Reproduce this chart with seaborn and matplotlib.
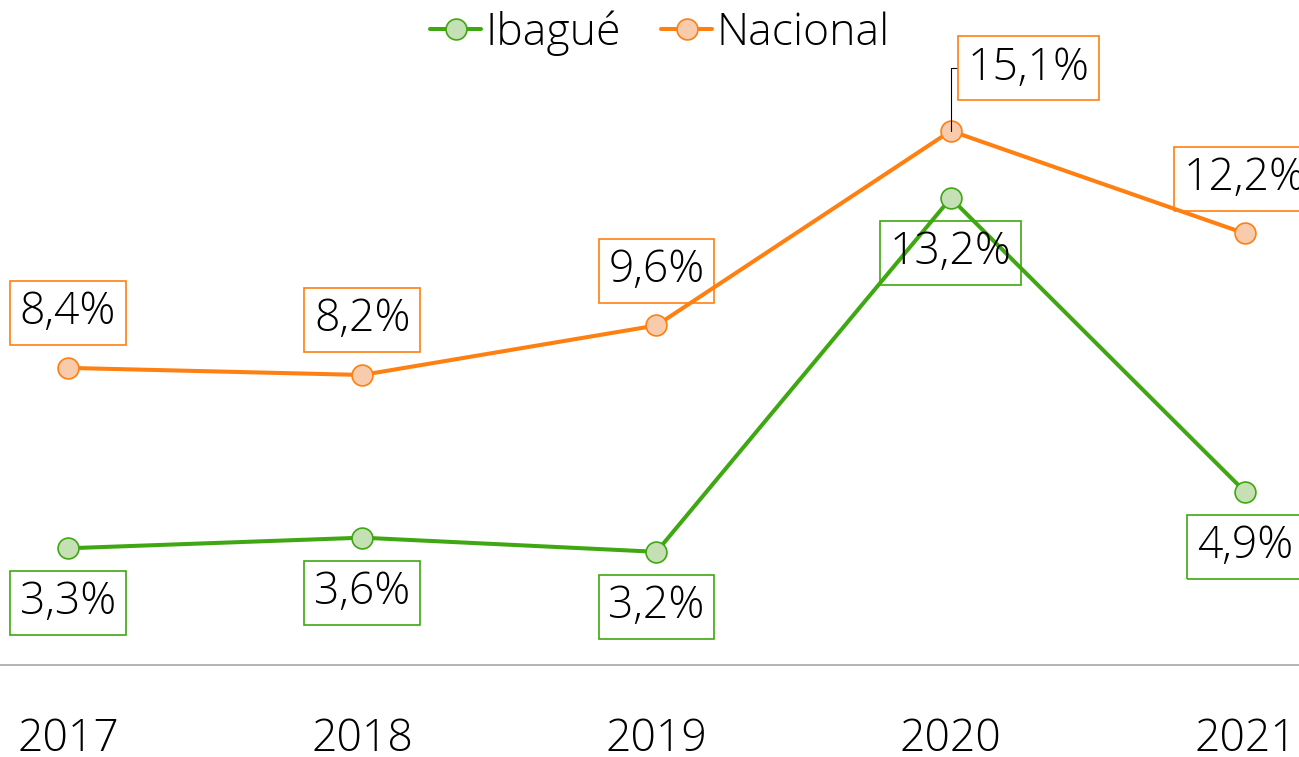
import numpy as np
import pandas as pd
import seaborn as sns
import matplotlib as mpl
import matplotlib.pyplot as plt

sns.set_theme(style="white")
mpl.rcParams["font.family"] = ["Open Sans", "DejaVu Sans"]
mpl.rcParams["font.weight"] = "light"
mpl.rcParams["text.color"] = "black"
mpl.rcParams["xtick.color"] = "black"

years = ["2017", "2018", "2019", "2020", "2021"]
ibague = [3.3, 3.6, 3.2, 13.2, 4.9]
nacional = [8.4, 8.2, 9.6, 15.1, 12.2]

green = "#3FA711"
green_fill = "#C5E0B4"
orange = "#FF7F10"
orange_fill = "#F8CBAD"
fs = 32

fig = plt.figure(figsize=(12.99, 7.57), dpi=100)
ax = fig.add_axes([0, 92 / 757, 1, 665 / 757])

pos = np.arange(len(years))
df = pd.DataFrame({"pos": pos, "Ibagué": ibague, "Nacional": nacional})

for col, lc, fc in [("Ibagué", green, green_fill), ("Nacional", orange, orange_fill)]:
    sns.lineplot(
        ax=ax, data=df, x="pos", y=col, color=lc, linewidth=2.9,
        marker="o", markersize=15, markerfacecolor=fc, markeredgecolor=lc,
        markeredgewidth=1.2, label=col, clip_on=False,
    )

def fmt(v):
    return f"{v:.1f}%".replace(".", ",")

box_pad = "square,pad=0.22"

# data labels
for i, v in enumerate(ibague):
    ax.annotate(fmt(v), xy=(i, v), xytext=(0, -39.5), textcoords="offset points",
                ha="center", va="center", fontsize=fs, annotation_clip=False,
                bbox=dict(boxstyle=box_pad, fc="none", ec=green, lw=1.2))
for i, v in enumerate(nacional):
    if i == 3:
        ax.annotate(fmt(v), xy=(i, v), xytext=(56, 45), textcoords="offset points",
                    ha="center", va="center", fontsize=fs, annotation_clip=False,
                    bbox=dict(boxstyle=box_pad, fc="none", ec=orange, lw=1.2),
                    arrowprops=dict(arrowstyle="-", color="black", lw=0.8,
                                    connectionstyle="angle,angleA=0,angleB=90,rad=0",
                                    shrinkA=0, shrinkB=0),
                    zorder=5)
    else:
        ax.annotate(fmt(v), xy=(i, v), xytext=(0, 39.5), textcoords="offset points",
                    ha="center", va="center", fontsize=fs, annotation_clip=False,
                    bbox=dict(boxstyle=box_pad, fc="none", ec=orange, lw=1.2))

ax.set_xlim(-68 / 294.25, 4 + 54 / 294.25)
ax.set_ylim(0, 665 / 35.37)
ax.set_xticks(pos)
ax.set_xticklabels(years, fontsize=fs)
ax.set_yticks([])
ax.set_xlabel("")
ax.set_ylabel("")
ax.tick_params(axis="x", length=0, pad=38)
for s in ["top", "left", "right"]:
    ax.spines[s].set_visible(False)
ax.spines["bottom"].set_color("#A6A6A6")
ax.spines["bottom"].set_linewidth(1.2)

ax.legend(loc="center", bbox_to_anchor=(0.508, 0.95), ncol=2, frameon=False,
          fontsize=fs, handlelength=1.15, handletextpad=0.1, columnspacing=0.9,
          borderpad=0)

fig.savefig("out.png", dpi=100)
